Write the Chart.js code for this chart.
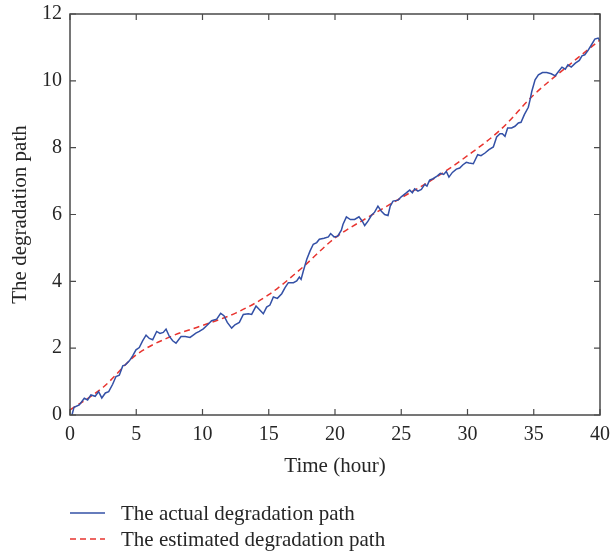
<!DOCTYPE html>
<html>
<head>
<meta charset="utf-8">
<script src="https://cdn.jsdelivr.net/npm/chart.js@4/dist/chart.umd.min.js"></script>
<style>
    body { margin: 0; background: #fff; }
    .wrap { position: relative; width: 611px; height: 554px; }
    #legend {
        position: absolute;
        left: 70px;
        top: 500px;
        font-family: 'Liberation Serif', serif;
        font-size: 21px;
        color: #262626;
    }
    .legend-row { display: flex; align-items: center; height: 26px; }
    .legend-row svg { margin-right: 16px; }
</style>
</head>
<body>
<div class="wrap">
    <canvas id="pathChart" width="611" height="554"></canvas>
    <div id="legend"></div>
</div>
<script>
// Data
const actualHours = [0.15, 0.3, 0.7, 1.08, 1.33, 1.58, 1.9, 2.16, 2.4, 2.67, 2.92, 3.22, 3.47, 3.72, 3.98, 4.18, 4.48, 4.73, 4.98,
    5.23, 5.48, 5.74, 5.99, 6.24, 6.54, 6.79, 7.04, 7.25, 7.5, 7.75, 8.0, 8.38, 8.7, 9.06, 9.3, 9.5, 9.76, 10.06, 10.31, 10.69,
    11.07, 11.37, 11.62, 11.87, 12.2, 12.45, 12.78, 13.08, 13.46, 13.71, 14.04, 14.29, 14.59, 14.84, 15.09, 15.35, 15.65, 15.98,
    16.23, 16.48, 16.86, 17.11, 17.31, 17.44, 17.61, 17.87, 18.12, 18.36, 18.62, 18.82, 19.17, 19.5, 19.67, 19.93, 20.2, 20.48,
    20.6, 20.86, 21.16, 21.48, 21.81, 22.06, 22.24, 22.49, 22.74, 22.99, 23.24, 23.5, 23.75, 24.0, 24.17, 24.38, 24.76, 25.0,
    25.33, 25.64, 25.84, 26.01, 26.26, 26.52, 26.77, 26.94, 27.14, 27.4, 27.7, 27.95, 28.2, 28.4, 28.6, 28.86, 29.16, 29.41,
    29.66, 29.91, 30.11, 30.44, 30.77, 31.02, 31.32, 31.62, 31.95, 32.2, 32.45, 32.63, 32.83, 33.03, 33.33, 33.58, 33.84, 34.04,
    34.29, 34.59, 34.72, 34.85, 35.1, 35.35, 35.66, 35.98, 36.32, 36.62, 36.87, 37.13, 37.38, 37.58, 37.83, 38.14, 38.44, 38.64,
    38.85, 39.1, 39.36, 39.61, 39.86, 40.0];
const actualValues = [0.0, 0.23, 0.3, 0.5, 0.45, 0.6, 0.56, 0.7, 0.51, 0.66, 0.7, 0.92, 1.15, 1.19, 1.47, 1.5, 1.62, 1.77, 1.95,
    2.02, 2.22, 2.39, 2.29, 2.25, 2.5, 2.44, 2.47, 2.57, 2.35, 2.22, 2.15, 2.35, 2.35, 2.32, 2.39, 2.45, 2.5, 2.58, 2.67, 2.82,
    2.87, 3.04, 2.97, 2.77, 2.6, 2.7, 2.77, 3.01, 3.03, 3.01, 3.26, 3.16, 3.03, 3.23, 3.29, 3.53, 3.49, 3.63,
    3.81, 3.96, 3.96, 4.01, 4.13, 4.06, 4.31, 4.66, 4.91, 5.11, 5.16, 5.26, 5.29, 5.33, 5.43, 5.33, 5.35, 5.53,
    5.7, 5.93, 5.85, 5.85, 5.93, 5.8, 5.67, 5.8, 5.97, 6.07, 6.25, 6.1, 6.0, 5.97, 6.25, 6.4, 6.43, 6.53,
    6.63, 6.73, 6.65, 6.77, 6.7, 6.75, 6.9, 6.85, 7.03, 7.07, 7.15, 7.23, 7.2, 7.29, 7.12, 7.26, 7.36, 7.39,
    7.49, 7.56, 7.54, 7.52, 7.79, 7.76, 7.84, 7.94, 8.02, 8.32, 8.42, 8.42, 8.34, 8.59, 8.59, 8.64, 8.74, 8.76,
    8.99, 9.21, 9.43, 9.68, 10.03, 10.18, 10.25, 10.25, 10.21, 10.15, 10.28, 10.41, 10.35, 10.48, 10.41, 10.53, 10.61, 10.75,
    10.78, 10.91, 11.08, 11.25, 11.28, 11.2];

const estimatedHours = [0, 2.5, 5, 7.5, 10, 12.5, 15, 17.5, 20, 22.5, 25, 27.5, 30, 32.5, 35, 37.5, 40];
const estimatedValues = [0.15, 0.83, 1.8, 2.33, 2.68, 3.05, 3.6, 4.4, 5.3, 5.92, 6.5, 7.08, 7.76, 8.54, 9.58, 10.42, 11.22];

const seriesNames = ['The actual degradation path', 'The estimated degradation path'];
const xTicks = [0, 5, 10, 15, 20, 25, 30, 35, 40];
const yTicks = [0, 2, 4, 6, 8, 10, 12];

const blue = '#3350a6';
const red = '#e8342f';
const serif = "'Liberation Serif', serif";

function toPoints(xs, ys) {
    return xs.map((x, i) => ({ x: x, y: ys[i] }));
}

// box around the plot with inward ticks on all four sides
const frameTicks = {
    id: 'frameTicks',
    afterDatasetsDraw(chart) {
        const { ctx, chartArea: a, scales: { x, y } } = chart;
        const len = 6;
        ctx.save();
        ctx.strokeStyle = '#4a4a4a';
        ctx.lineWidth = 1.5;
        ctx.strokeRect(a.left, a.top, a.right - a.left, a.bottom - a.top);
        ctx.lineWidth = 1.2;
        ctx.beginPath();
        xTicks.forEach(v => {
            const px = x.getPixelForValue(v);
            ctx.moveTo(px, a.bottom); ctx.lineTo(px, a.bottom - len);
            ctx.moveTo(px, a.top); ctx.lineTo(px, a.top + len);
        });
        yTicks.forEach(v => {
            const py = y.getPixelForValue(v);
            ctx.moveTo(a.left, py); ctx.lineTo(a.left + len, py);
            ctx.moveTo(a.right, py); ctx.lineTo(a.right - len, py);
        });
        ctx.stroke();
        ctx.restore();
    }
};

const ctx = document.getElementById('pathChart').getContext('2d');

const chart = new Chart(ctx, {
    type: 'line',
    data: {
        datasets: [{
            label: seriesNames[0],
            data: toPoints(actualHours, actualValues),
            borderColor: blue,
            borderWidth: 1.5,
            pointRadius: 0,
            tension: 0
        }, {
            label: seriesNames[1],
            data: toPoints(estimatedHours, estimatedValues),
            borderColor: red,
            borderWidth: 1.5,
            borderDash: [6, 4],
            pointRadius: 0,
            cubicInterpolationMode: 'monotone'
        }]
    },
    options: {
        responsive: false,
        animation: false,
        layout: {
            padding: { left: 0, right: 11, top: 14, bottom: 71 }
        },
        plugins: {
            legend: { display: false },
            tooltip: { enabled: false }
        },
        scales: {
            x: {
                type: 'linear',
                min: 0,
                max: 40,
                afterBuildTicks: scale => { scale.ticks = xTicks.map(v => ({ value: v })); },
                afterFit: scale => {
                    scale.height = 68;
                    scale.paddingLeft = 0;
                    scale.paddingRight = 0;
                },
                grid: { display: false, drawTicks: false },
                border: { display: false },
                ticks: {
                    color: '#262626',
                    padding: 8,
                    maxRotation: 0,
                    font: { family: serif, size: 20 }
                },
                title: {
                    display: true,
                    text: 'Time (hour)',
                    color: '#262626',
                    padding: { top: 0, bottom: 4 },
                    font: { family: serif, size: 21 }
                }
            },
            y: {
                min: 0,
                max: 12,
                afterBuildTicks: scale => { scale.ticks = yTicks.map(v => ({ value: v })); },
                afterFit: scale => {
                    scale.width = 70;
                    scale.paddingTop = 0;
                    scale.paddingBottom = 0;
                },
                grid: { display: false, drawTicks: false },
                border: { display: false },
                ticks: {
                    color: '#262626',
                    padding: 8,
                    font: { family: serif, size: 20 }
                },
                title: {
                    display: true,
                    text: 'The degradation path',
                    color: '#262626',
                    padding: { top: 8, bottom: 0 },
                    font: { family: serif, size: 21 }
                }
            }
        }
    },
    plugins: [frameTicks]
});

// legend below the chart, built from the datasets
const legend = document.getElementById('legend');
chart.data.datasets.forEach(ds => {
    const row = document.createElement('div');
    row.className = 'legend-row';
    const dash = ds.borderDash ? 'stroke-dasharray="6,4"' : '';
    row.innerHTML = '<svg width="35" height="4"><line x1="0" y1="2" x2="35" y2="2" stroke="' +
        ds.borderColor + '" stroke-width="1.5" ' + dash + '/></svg><span>' + ds.label + '</span>';
    legend.appendChild(row);
});
</script>
</body>
</html>
